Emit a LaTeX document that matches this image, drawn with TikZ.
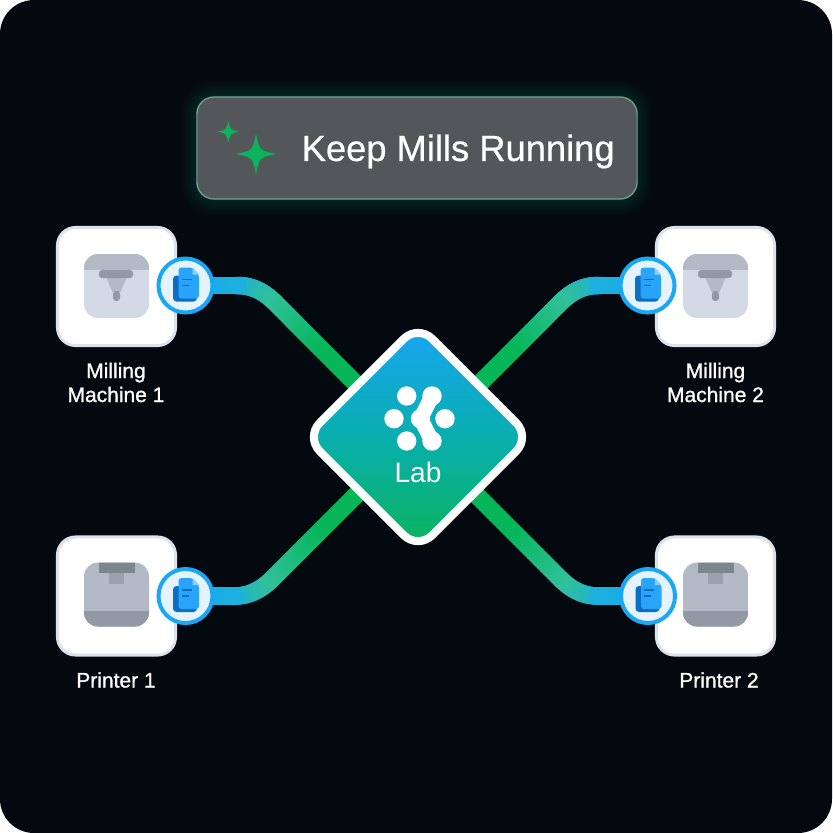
\documentclass[tikz,border=0pt]{standalone}
\usepackage{fontspec}
\usepackage{tikz}
\usetikzlibrary{shapes.geometric,calc}

\setmainfont{Liberation Sans}
\newfontfamily\cardfont[FakeBold=1]{Liberation Sans}
\newfontfamily\goalfont[FakeBold=.6]{Liberation Sans}

\definecolor{pagedark}{HTML}{04090F}
\definecolor{goalfill}{HTML}{53575A}
\definecolor{goaledge}{HTML}{6FA88E}
\definecolor{glowgreen}{HTML}{12B886}
\definecolor{sparkgreen}{HTML}{0DB35C}
\definecolor{cardedge}{HTML}{DCE2EB}
\definecolor{bandgrey}{HTML}{B3BAC5}
\definecolor{millgrey}{HTML}{D3DAE6}
\definecolor{headgrey}{HTML}{9299A4}
\definecolor{tabgrey}{HTML}{7F858F}
\definecolor{stemgrey}{HTML}{9CA2AD}
\definecolor{ringblue}{HTML}{1AA7F5}
\definecolor{badgefill}{HTML}{E5F3FE}
\definecolor{docdark}{HTML}{0A6FC2}
\definecolor{docblue}{HTML}{2AA4F8}
\definecolor{docfold}{HTML}{8FD0FB}
\definecolor{wireblue}{HTML}{15AAF5}
\definecolor{wireteal}{HTML}{30C09A}
\definecolor{wiregreen}{HTML}{06B659}
\definecolor{labtop}{HTML}{18A5F5}
\definecolor{labmid}{HTML}{09AEAE}
\definecolor{labbottom}{HTML}{0AB45A}

\pgfdeclarelayer{under}
\pgfdeclarelayer{wires}
\pgfsetlayers{under,wires,main}

\tikzset{
    goalbox/.style={rectangle,rounded corners=.17cm,minimum width=4.4cm,minimum height=1.02cm,inner sep=0pt},
    card/.style={rectangle,rounded corners=.18cm,fill=white,draw=cardedge,line width=.03cm,minimum size=1.18cm,inner sep=0pt},
    badge/.style={circle,fill=badgefill,draw=ringblue,line width=.04cm,minimum size=.54cm,inner sep=0pt},
    cardlabel/.style={text=white,align=center,inner sep=0pt,font=\fontsize{5.97}{6.83}\selectfont\cardfont},
    wirestep/.style={line width=.175cm,line cap=round},
    sparkle/.pic={
        \fill[sparkgreen] (0,-1) .. controls (.17,-.17) .. (1,0) .. controls (.17,.17) .. (0,1)
            .. controls (-.17,.17) .. (-1,0) .. controls (-.17,-.17) .. (0,-1) -- cycle;
    },
    millicon/.pic={
        \begin{scope}
            \clip[rounded corners=.14cm] (-32.5,-32) rectangle (32.5,32);
            \fill[millgrey] (-33,-33) rectangle (33,33);
            \fill[bandgrey] (-33,-33) rectangle (33,-16);
        \end{scope}
        \fill[bandgrey] (-10,-8) -- (10,-8) -- (4,6) -- (-4,6) -- cycle;
        \fill[headgrey,rounded corners=.03cm] (-17.5,-16) -- (16.5,-16) -- (16.5,-8) -- (-17.5,-8) -- cycle;
        \fill[headgrey,rounded corners=.03cm] (-3.5,5) rectangle (3.5,15);
    },
    printicon/.pic={
        \begin{scope}
            \clip[rounded corners=.14cm] (-32.5,-32) rectangle (32.5,32);
            \fill[bandgrey] (-33,-33) rectangle (33,33);
            \fill[headgrey] (-33,16) rectangle (33,33);
            \fill[tabgrey] (-18,-33) rectangle (18,-22);
            \fill[stemgrey] (-8,-22) rectangle (7,-11);
        \end{scope}
    },
    docicon/.pic={
        \fill[docdark,rounded corners=.035cm] (-12.5,-10) rectangle (11.5,16);
        \fill[docblue,rounded corners=.03cm] (-7,-18) -- (7,-18) -- (13.5,-11) -- (13.5,13) -- (-7,13) -- cycle;
        \fill[docfold] (7,-18) -- (13.5,-11) -- (7,-11) -- cycle;
        \draw[docdark,line width=.012cm] (-4,-6) -- (6,-6);
        \draw[docdark,line width=.012cm] (-4,0) -- (3,0);
    }
}

% connector: badge, bend, hub end, coloured in short pieces
\newcommand{\wirelink}[3]{
    \coordinate (wa) at ($(#2)!.2cm!(#1.center)$);
    \coordinate (wb) at ($(#2)!.24cm!(#3)$);
    \foreach \s in {0,...,24} {
        \pgfmathsetmacro\ta{\s/25}
        \pgfmathsetmacro\tb{(\s+1)/25}
        \pgfmathsetmacro\tc{\s}
        \pgfmathsetmacro\td{25+\s*3}
        \draw[wirestep,wireteal!\tc!wireblue] ($(#1.center)!\ta!(wa)$) -- ($(#1.center)!\tb!(wa)$);
        \draw[wirestep,wireteal!\td!wireblue] ($($(wa)!\ta!(#2)$)!\ta!($(#2)!\ta!(wb)$)$) -- ($($(wa)!\tb!(#2)$)!\tb!($(#2)!\tb!(wb)$)$);
    }
    \foreach \s in {0,...,39} {
        \pgfmathsetmacro\ta{\s/40}
        \pgfmathsetmacro\tb{(\s+1)/40}
        \pgfmathsetmacro\tc{min(100,\s*6.5)}
        \draw[wirestep,wiregreen!\tc!wireteal] ($(wb)!\ta!(#3)$) -- ($(wb)!\tb!(#3)$);
    }
}

\begin{document}
\begin{tikzpicture}[x=.01cm,y=-.01cm]
        \useasboundingbox (0,0) rectangle (832,833);

        \begin{pgfonlayer}{under}
        \fill[white] (0,0) rectangle (832,833);
        \fill[pagedark,rounded corners=.34cm] (0,0) rectangle (832,833);
        \end{pgfonlayer}

        % goal banner
        \foreach \g in {16,14,...,2}
            \node[goalbox,fill=glowgreen,fill opacity=.018,minimum width={(4.4+.02*\g)*1cm},minimum height={(1.02+.02*\g)*1cm},rounded corners={(.17+.01*\g)*1cm}] (glow\g) at (417,148) {};
        \node[goalbox,fill=goalfill,draw=goaledge,line width=.012cm] (goal) at (417,148) {};
        \node[anchor=west,inner sep=0pt,text=white,font=\fontsize{10.33}{12}\selectfont\goalfont] (goaltext) at (301,151.5) {Keep Mills Running};
        \pic[scale=20.5] at (256,154) {sparkle};
        \pic[scale=11] at (228.3,131.7) {sparkle};

        % machines
        \node[card] (mm1) at (116.5,286.5) {};
        \node[card] (mm2) at (715.5,286.5) {};
        \node[card] (pr1) at (116.5,596) {};
        \node[card] (pr2) at (715.5,596) {};

        \pic at (116.5,286) {millicon};
        \pic at (715.5,286) {millicon};
        \pic at (116.5,594.5) {printicon};
        \pic at (715.5,594.5) {printicon};

        \node[cardlabel] (mm1label) at (116,382.5) {Milling\\Machine 1};
        \node[cardlabel] (mm2label) at (715.5,382.5) {Milling\\Machine 2};
        \node[cardlabel] (pr1label) at (116,680) {Printer 1};
        \node[cardlabel] (pr2label) at (719,680) {Printer 2};

        \node[badge] (docmm1) at (185.5,285.5) {};
        \node[badge] (docmm2) at (647.5,285.5) {};
        \node[badge] (docpr1) at (185.5,596) {};
        \node[badge] (docpr2) at (648,596) {};

        \pic at (docmm1.center) {docicon};
        \pic at (docmm2.center) {docicon};
        \pic at (docpr1.center) {docicon};
        \pic at (docpr2.center) {docicon};

        % hub
        \node[diamond,aspect=1,inner sep=0pt,minimum size=2.28cm,rounded corners=.2cm,draw=white,line width=.08cm,
              shading=axis,top color=labtop,bottom color=labbottom,middle color=labmid] (lab) at (418,437) {};

        \coordinate (endmm1) at ([shift={(-13,-4)}]lab.center);
        \coordinate (endmm2) at ([shift={(12,-3.5)}]lab.center);
        \coordinate (endpr1) at ([shift={(-8,4)}]lab.center);
        \coordinate (endpr2) at ([shift={(7,6.5)}]lab.center);

        \coordinate (bendmm1) at (258,285.5);
        \coordinate (bendmm2) at (577.5,285.5);
        \coordinate (bendpr1) at (255,596);
        \coordinate (bendpr2) at (577.5,596);

        \begin{pgfonlayer}{wires}
        \wirelink{docmm1}{bendmm1}{endmm1}
        \wirelink{docmm2}{bendmm2}{endmm2}
        \wirelink{docpr1}{bendpr1}{endpr1}
        \wirelink{docpr2}{bendpr2}{endpr2}
        \end{pgfonlayer}

        \foreach \lx/\ly in {406.7/396,394/418.7,445/418.7,406.7/441,432/396,420.5/418.7,432/441}
            \fill[white] (\lx,\ly) circle (9.7);
        \draw[white,line width=.15cm] (432,396) -- (420.5,418.7) -- (432,441);

        \node[text=white,inner sep=0pt,font=\fontsize{8}{10}\selectfont] (labtext) at (418,472) {Lab};

\end{tikzpicture}
\end{document}
